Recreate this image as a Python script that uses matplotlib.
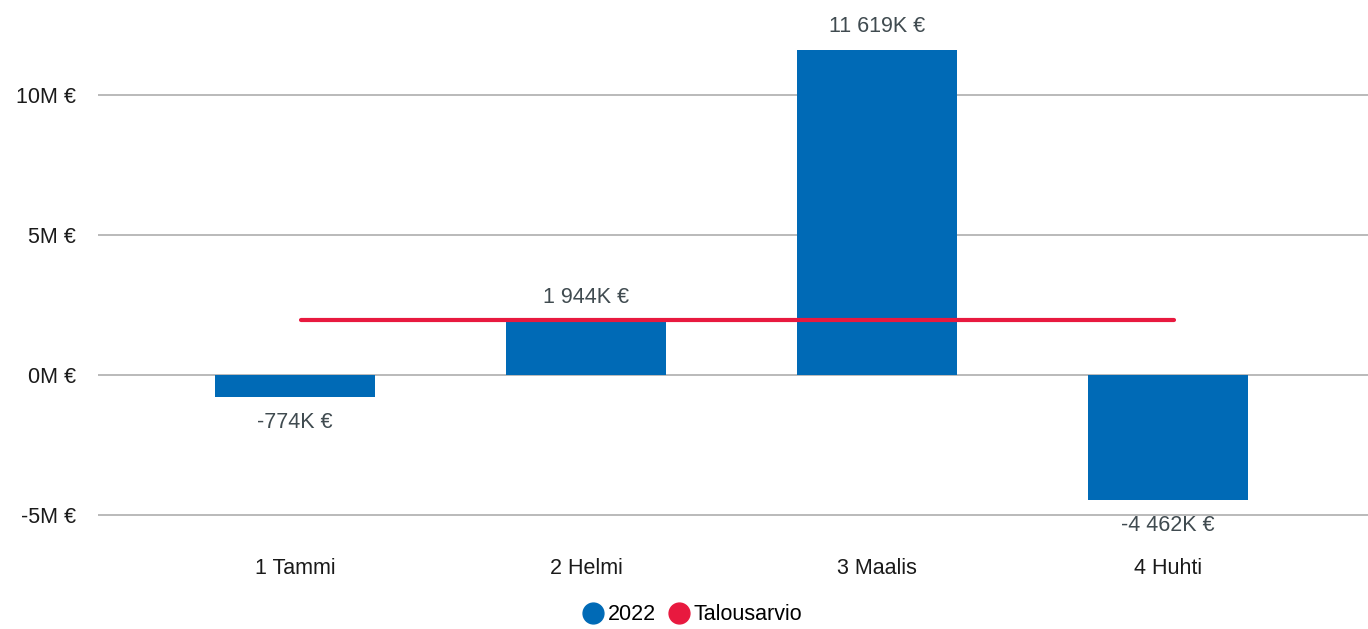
import matplotlib
matplotlib.use("Agg")
import matplotlib.pyplot as plt
from matplotlib.lines import Line2D

categories = ["1 Tammi", "2 Helmi", "3 Maalis", "4 Huhti"]
values_2022 = [-774, 1944, 11619, -4462]  # thousands of euros
budget = [1950, 1950, 1950, 1950]  # thousands of euros
yticks = [-5000, 0, 5000, 10000]
ytick_labels = ["-5M €", "0M €", "5M €", "10M €"]

BLUE = "#006ab6"
RED = "#e8193f"
LABEL = "#404b50"
FS = 15.5

plt.rcParams['font.family'] = ['Liberation Sans', 'DejaVu Sans']

fig = plt.figure(figsize=(13.68, 6.29), dpi=100)
ax = fig.add_axes([98/1368, 1 - 543/629, 1270/1368, 543/629])

x = list(range(len(categories)))
ax.bar(x, values_2022, width=0.55, color=BLUE, zorder=2)
ax.plot([xi + 0.02 for xi in x], budget, color=RED, lw=3, solid_capstyle='round', zorder=3)

def fmt(v):
    s = f"{abs(v):,}".replace(",", " ")
    return ("-" if v < 0 else "") + s + "K €"

for xi, v in zip(x, values_2022):
    off = 16.5 if v >= 0 else -18.5
    ax.annotate(fmt(v), (xi, v), xytext=(0, off), textcoords='offset points',
                ha='center', va='center', fontsize=FS, color=LABEL, zorder=4)

ax.set_xlim(-0.677, 3.687)
ax.set_ylim(-6000, 13390)
ax.set_yticks(yticks)
ax.set_yticklabels(ytick_labels)
ax.set_xticks(x)
ax.set_xticklabels(categories)
ax.tick_params(axis='both', length=0, labelsize=FS, colors='#1a1a1a')
ax.tick_params(axis='y', pad=16)
ax.tick_params(axis='x', pad=11)
ax.grid(axis='y', color='#b4b4b4', lw=1.3, zorder=0)
for s in ax.spines.values():
    s.set_visible(False)

handles = [Line2D([], [], marker='o', ls='', color=BLUE, markersize=15),
           Line2D([], [], marker='o', ls='', color=RED, markersize=15)]
fig.legend(handles, ["2022", "Talousarvio"], loc='center', bbox_to_anchor=(691/1368, 1 - 615/629),
           ncol=2, frameon=False, fontsize=FS, handletextpad=0.1, columnspacing=0.45,
           handlelength=1.2)

fig.savefig("out.png", dpi=100)
